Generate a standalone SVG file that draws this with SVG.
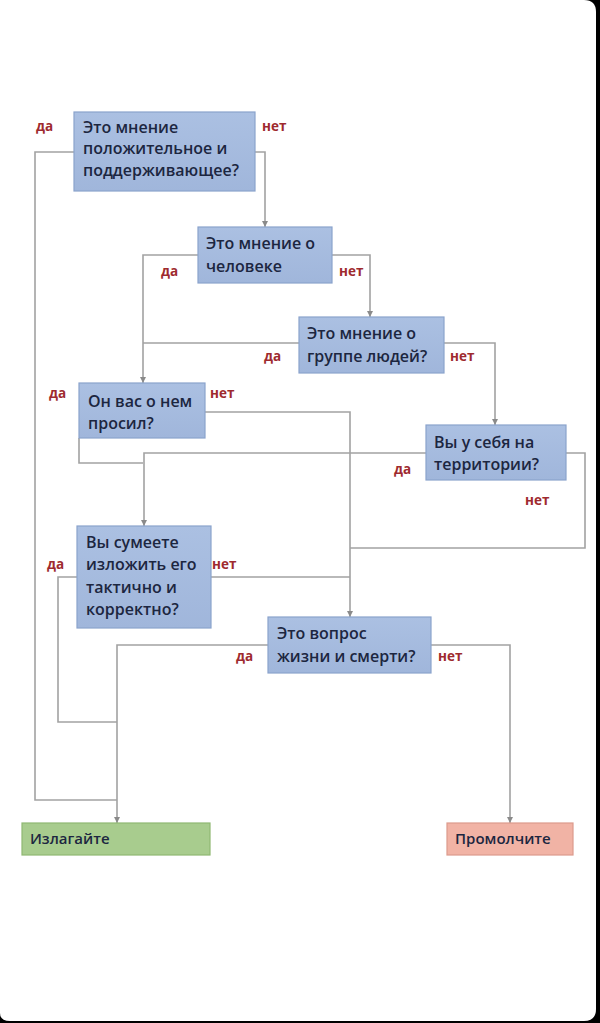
<svg xmlns="http://www.w3.org/2000/svg" width="600" height="1023" viewBox="0 0 600 1023">
<defs>
<marker id="arr" viewBox="0 0 10 10" refX="10" refY="5" markerWidth="6" markerHeight="6" markerUnits="userSpaceOnUse" orient="auto">
<path d="M0,0 L10,5 L0,10 Z" fill="#8a8a8a"/>
</marker>
<linearGradient id="gBlue" x1="0" y1="0" x2="0" y2="1">
<stop offset="0" stop-color="#abc0e2"/>
<stop offset="1" stop-color="#a0b6db"/>
</linearGradient>
</defs>
<style>
.box{fill:url(#gBlue);stroke:#8aa3cc;stroke-width:1.2}
.t{font-family:"Open Sans","Noto Sans","DejaVu Sans",sans-serif;font-size:16px;font-weight:600;fill:#1c2640}
.lbl{font-family:"Open Sans","Noto Sans","DejaVu Sans",sans-serif;font-size:13.5px;font-weight:700;fill:#9e2a2e}
.c{fill:none;stroke:#a2a2a2;stroke-width:1.6}
.ca{fill:none;stroke:#a2a2a2;stroke-width:1.6;marker-end:url(#arr)}
</style>
<rect x="0" y="0" width="600" height="1023" fill="#000"/>
<path d="M0,0 H584 Q596,0 596,12 V1009 Q596,1021 584,1021 H10 Q0,1021 0,1013 Z" fill="#fff"/>

<g id="connectors">
<path class="c" d="M74,152 H35 V800 H117"/>
<path class="ca" d="M255,152 H265 V227"/>
<path class="ca" d="M198,255 H143 V383"/>
<path class="ca" d="M332,255 H370 V317"/>
<path class="c" d="M299,343 H143"/>
<path class="ca" d="M444,343 H495 V425"/>
<path class="c" d="M79,438 V463 H143"/>
<path class="ca" d="M205,412 H350 V617"/>
<path class="ca" d="M426,453 H144 V526"/>
<path class="c" d="M566,453 H585 V548 H350"/>
<path class="c" d="M77,577 H58 V722 H117"/>
<path class="c" d="M211,577 H350"/>
<path class="ca" d="M268,645 H117 V823"/>
<path class="ca" d="M431,645 H510 V823"/>
</g>

<g id="q1">
<rect class="box" x="74" y="112" width="181" height="79"/>
<text class="t" x="83" y="133">Это мнение</text>
<text class="t" x="83" y="154">положительное и</text>
<text class="t" x="83" y="176">поддерживающее?</text>
<text class="lbl" x="36" y="131">да</text>
<text class="lbl" x="262" y="131">нет</text>
</g>

<g id="q2">
<rect class="box" x="198" y="227" width="134" height="56"/>
<text class="t" x="206" y="249">Это мнение о</text>
<text class="t" x="206" y="272">человеке</text>
<text class="lbl" x="161" y="276">да</text>
<text class="lbl" x="339" y="276">нет</text>
</g>

<g id="q3">
<rect class="box" x="299" y="317" width="145" height="56"/>
<text class="t" x="307" y="339">Это мнение о</text>
<text class="t" x="307" y="362">группе людей?</text>
<text class="lbl" x="264" y="361">да</text>
<text class="lbl" x="450" y="361">нет</text>
</g>

<g id="q4">
<rect class="box" x="79" y="383" width="126" height="55"/>
<text class="t" x="88" y="407">Он вас о нем</text>
<text class="t" x="88" y="429">просил?</text>
<text class="lbl" x="49" y="398">да</text>
<text class="lbl" x="210" y="398">нет</text>
</g>

<g id="q5">
<rect class="box" x="426" y="425" width="140" height="55"/>
<text class="t" x="434" y="448">Вы у себя на</text>
<text class="t" x="434" y="470">территории?</text>
<text class="lbl" x="394" y="474">да</text>
<text class="lbl" x="525" y="505">нет</text>
</g>

<g id="q6">
<rect class="box" x="77" y="526" width="134" height="102"/>
<text class="t" x="86" y="548">Вы сумеете</text>
<text class="t" x="86" y="570">изложить его</text>
<text class="t" x="86" y="593">тактично и</text>
<text class="t" x="86" y="615">корректно?</text>
<text class="lbl" x="47" y="569">да</text>
<text class="lbl" x="212" y="569">нет</text>
</g>

<g id="q7">
<rect class="box" x="268" y="617" width="163" height="56"/>
<text class="t" x="277" y="639">Это вопрос</text>
<text class="t" x="277" y="662">жизни и смерти?</text>
<text class="lbl" x="236" y="661">да</text>
<text class="lbl" x="438" y="661">нет</text>
</g>

<g id="speak">
<rect x="22" y="823" width="188" height="32" fill="#a8cc8e" stroke="#8fb872" stroke-width="1.2"/>
<text class="t" x="30" y="844" style="font-size:15px">Излагайте</text>
</g>

<g id="silent">
<rect x="447" y="823" width="126" height="32" fill="#f1b3a5" stroke="#dc9a8c" stroke-width="1.2"/>
<text class="t" x="455" y="844" style="font-size:15px">Промолчите</text>
</g>
</svg>
